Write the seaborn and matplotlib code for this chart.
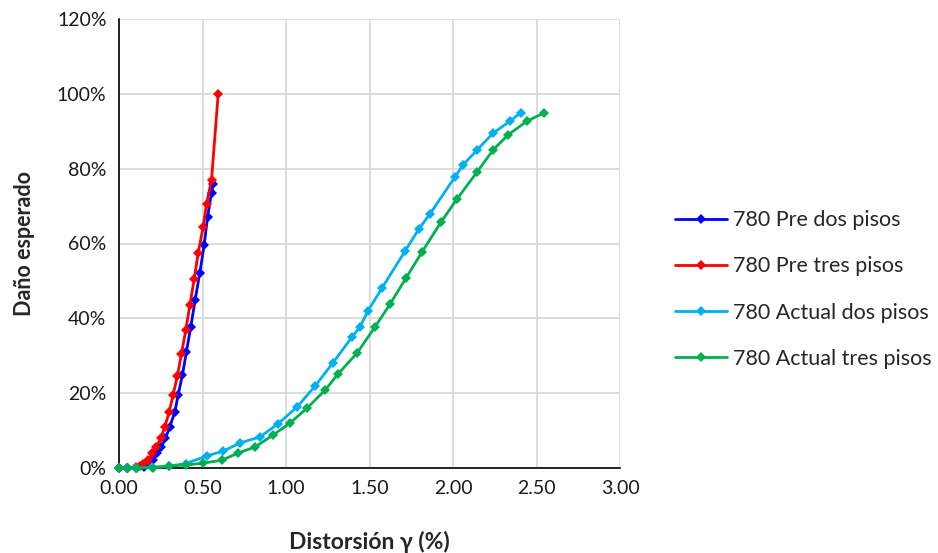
import matplotlib
matplotlib.use("Agg")
import matplotlib.pyplot as plt
from matplotlib.ticker import FuncFormatter
import seaborn as sns

# Distorsión de entrepiso (%) y daño esperado (%) por tipología
pre_dos_x = [0, 0.05, 0.10, 0.15, 0.18, 0.205, 0.23, 0.254, 0.278, 0.304, 0.334,
             0.354, 0.38, 0.404, 0.43, 0.456, 0.484, 0.51, 0.53, 0.554, 0.564]
pre_dos_y = [0, 0, 0.1, 0.4, 1.0, 2.2, 3.9, 5.7, 7.9, 11.0, 14.9,
             19.5, 24.9, 31.1, 37.8, 44.9, 52.2, 59.6, 67.0, 73.6, 76.0]

pre_tres_x = [0, 0.05, 0.10, 0.125, 0.144, 0.174, 0.20, 0.224, 0.25, 0.274, 0.30,
              0.324, 0.35, 0.374, 0.40, 0.424, 0.45, 0.474, 0.504, 0.524, 0.554, 0.594]
pre_tres_y = [0, 0, 0.2, 0.5, 1.1, 2.1, 3.9, 5.7, 7.9, 11.0, 14.9,
              19.5, 24.7, 30.5, 36.9, 43.5, 50.4, 57.4, 64.5, 70.6, 77.0, 100.0]

act_dos_x = [0, 0.05, 0.10, 0.20, 0.30, 0.40, 0.524, 0.623, 0.725, 0.844, 0.952,
             1.066, 1.174, 1.281, 1.395, 1.443, 1.491, 1.575, 1.713, 1.796, 1.862,
             2.012, 2.06, 2.144, 2.24, 2.341, 2.407]
act_dos_y = [0, 0, 0, 0.2, 0.5, 1.2, 3.2, 4.5, 6.7, 8.3, 11.8,
             16.3, 21.9, 28.1, 35.0, 37.7, 42.0, 48.1, 58.0, 63.9, 67.9,
             77.8, 81.0, 85.0, 89.5, 92.7, 95.0]

act_tres_x = [0, 0.054, 0.108, 0.204, 0.299, 0.401, 0.504, 0.617, 0.713, 0.814, 0.922,
              1.024, 1.126, 1.234, 1.311, 1.425, 1.533, 1.623, 1.719, 1.814, 1.928,
              2.024, 2.144, 2.24, 2.329, 2.443, 2.545]
act_tres_y = [0, 0, 0, 0.1, 0.5, 0.8, 1.3, 2.1, 4.0, 5.6, 8.8,
              12.0, 16.0, 20.8, 25.1, 30.7, 37.7, 43.8, 50.8, 57.7, 65.7,
              71.9, 79.1, 85.0, 89.0, 92.7, 94.9]

series_labels = ["780 Pre dos pisos", "780 Pre tres pisos",
                 "780 Actual dos pisos", "780 Actual tres pisos"]
series_colors = ["#0000FF", "#FF0000", "#00B0F0", "#00B050"]

x_ticks = [0, 0.5, 1.0, 1.5, 2.0, 2.5, 3.0]
y_ticks = [0, 20, 40, 60, 80, 100, 120]

sns.set_style("white")
plt.rcParams["font.family"] = ["Lato", "DejaVu Sans"]

fig = plt.figure(figsize=(9.38, 5.53), dpi=100)
ax = fig.add_axes([119 / 938, 1 - 468 / 553, (620 - 119) / 938, (468 - 19) / 553])

data = [(pre_dos_x, pre_dos_y), (pre_tres_x, pre_tres_y),
        (act_dos_x, act_dos_y), (act_tres_x, act_tres_y)]
for (xs, ys), lab, col in zip(data, series_labels, series_colors):
    sns.lineplot(x=xs, y=ys, ax=ax, color=col, label=lab, marker="D",
                 markersize=5.5, markeredgewidth=0, linewidth=2.0,
                 estimator=None, sort=False, zorder=5, clip_on=False)

ax.set_xlim(0, 3.0)
ax.set_ylim(0, 120)
ax.set_xticks(x_ticks)
ax.set_yticks(y_ticks)
ax.xaxis.set_major_formatter(FuncFormatter(lambda v, p: f"{v:.2f}"))
ax.yaxis.set_major_formatter(FuncFormatter(lambda v, p: f"{v:.0f}%"))
ax.grid(True, color="#d9d9d9", linewidth=1.3, zorder=0)
ax.set_axisbelow(True)

for side in ["top", "right"]:
    ax.spines[side].set_visible(False)
for side in ["left", "bottom"]:
    ax.spines[side].set_color("black")
    ax.spines[side].set_linewidth(1.2)
    ax.spines[side].set_zorder(4)

ax.tick_params(axis="both", direction="out", length=5, width=1.0, color="black",
               labelsize=14, labelcolor="#1a1a1a", pad=4)
ax.set_xlabel("Distorsión γ (%)", fontsize=16.5, fontweight="bold", labelpad=24)
ax.set_ylabel("Daño esperado", fontsize=15.5, fontweight="bold", labelpad=16)

handles, labels = ax.get_legend_handles_labels()
ax.get_legend().remove()
fig.legend(handles, labels, loc="center left", bbox_to_anchor=(675 / 938, 1 - 289.5 / 553),
           frameon=False, fontsize=15.5, handlelength=2.42, handletextpad=0.28,
           labelspacing=1.22, borderpad=0, borderaxespad=0)

fig.savefig("out.png", dpi=100)
